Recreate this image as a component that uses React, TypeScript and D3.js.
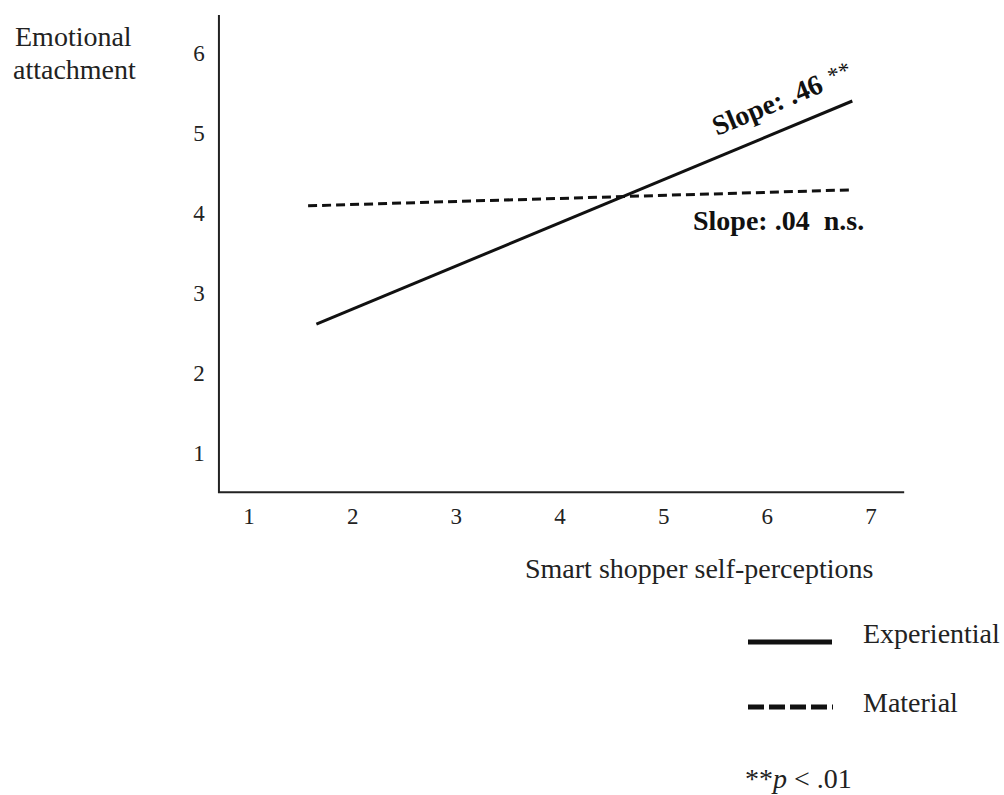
import * as d3 from "d3";

// values
const xTicks = [1, 2, 3, 4, 5, 6, 7];
const yTicks = [1, 2, 3, 4, 5, 6];
const experiential = [
  { x: 1.65, y: 2.61 },
  { x: 6.82, y: 5.4 },
];
const material = [
  { x: 1.57, y: 4.09 },
  { x: 6.83, y: 4.29 },
];
const xAxisExtent = [0.71, 7.32];
const yAxisExtent = [0.51, 6.475];

const W = 1004, H = 795;
const FONT = "'Liberation Serif', 'Times New Roman', serif";

export default function App() {
  const x = d3.scaleLinear().domain([1, 7]).range([249, 871]);
  const y = d3.scaleLinear().domain([1, 6]).range([453, 53]);

  const line = d3
    .line<{ x: number; y: number }>()
    .x((d) => x(d.x))
    .y((d) => y(d.y));

  const x0 = x(xAxisExtent[0]);
  const x1 = x(xAxisExtent[1]);
  const yBottom = y(yAxisExtent[0]);
  const yTop = y(yAxisExtent[1]);

  return (
    <svg
      width={W}
      height={H}
      style={{ position: "absolute", left: 0, top: 0, background: "#fff" }}
      fontFamily={FONT}
    >
      {/* axes */}
      <path
        d={`M${x0},${yTop}V${yBottom}H${x1}`}
        fill="none"
        stroke="#222"
        strokeWidth={2}
      />

      {yTicks.map((t) => (
        <text key={"y" + t} x={199} y={y(t) + 8} fontSize={23} textAnchor="middle" fill="#222">
          {t}
        </text>
      ))}
      {xTicks.map((t) => (
        <text key={"x" + t} x={x(t)} y={524} fontSize={23} textAnchor="middle" fill="#222">
          {t}
        </text>
      ))}

      <text x={15} y={46} fontSize={28} fill="#222">Emotional</text>
      <text x={13} y={79} fontSize={28} fill="#222">attachment</text>
      <text x={525} y={578} fontSize={28} fill="#222">Smart shopper self-perceptions</text>

      {/* lines */}
      <path d={line(material) ?? ""} fill="none" stroke="#111" strokeWidth={3} strokeDasharray="9,5" />
      <path d={line(experiential) ?? ""} fill="none" stroke="#111" strokeWidth={3} />

      {/* slope annotations */}
      <text transform="translate(717,136) rotate(-22.5)" fill="#111">
        <tspan fontSize={28} fontWeight="bold">Slope: .46</tspan>
        <tspan fontSize={23} dx={9} dy={-4}>**</tspan>
      </text>
      <text x={693} y={230} fontSize={28} fontWeight="bold" fill="#111">
        Slope: .04{"\u00a0\u00a0"}n.s.
      </text>

      {/* legend */}
      <line x1={748} x2={832} y1={642} y2={642} stroke="#111" strokeWidth={5} />
      <text x={863} y={643} fontSize={28} fill="#222">Experiential</text>
      <line x1={748} x2={833} y1={707} y2={707} stroke="#111" strokeWidth={5} strokeDasharray="16,5" />
      <text x={863} y={712} fontSize={28} fill="#222">Material</text>
      <text x={745} y={788} fontSize={28} fill="#222">
        <tspan>**</tspan>
        <tspan fontStyle="italic">p</tspan>
        <tspan> &lt; .01</tspan>
      </text>
    </svg>
  );
}
